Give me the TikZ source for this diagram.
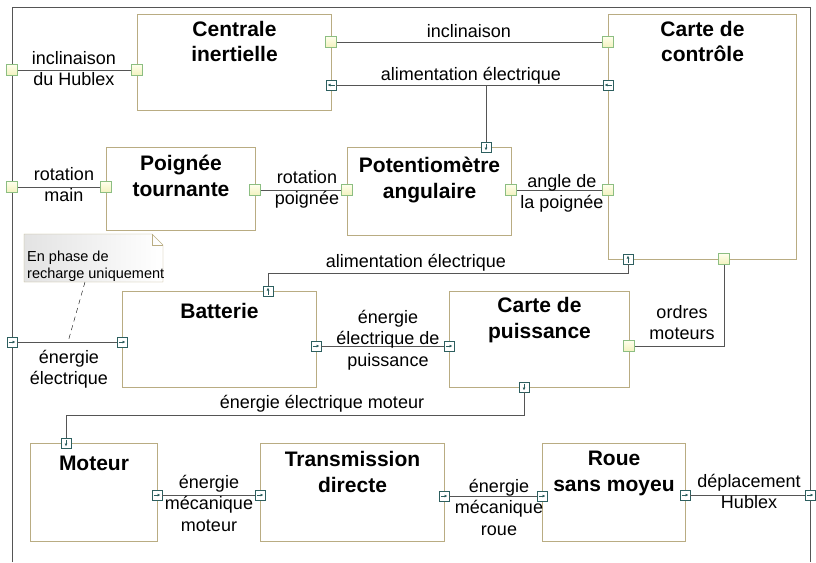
\documentclass[tikz,border=0pt]{standalone}
\usepackage{fontspec}
\setmainfont{Liberation Sans}
\usetikzlibrary{arrows.meta}

\definecolor{bordbloc}{RGB}{185,172,130}
\definecolor{bordport}{RGB}{140,190,130}
\definecolor{hautport}{RGB}{255,255,236}
\definecolor{basport}{RGB}{242,242,190}
\definecolor{flux}{RGB}{45,95,95}
\definecolor{trait}{RGB}{85,85,85}

\tikzset{
  bloc/.style={draw=bordbloc, fill=white, line width=1pt, anchor=north west, inner sep=0pt},
  titre/.style={font=\fontsize{21}{25.5}\selectfont\bfseries, align=center, anchor=north, inner sep=0pt},
  etiq/.style={font=\fontsize{18}{21.5}\selectfont, align=center, anchor=north, inner sep=0pt},
  port/.style={draw=bordport, line width=0.8pt, top color=hautport, bottom color=basport, minimum size=11pt, inner sep=0pt},
  fport/.style={draw=flux, line width=0.8pt, fill=white, minimum size=10pt, inner sep=0pt},
  fleche/.style={flux, line width=0.6pt, -{Latex[length=3pt,width=3pt]}},
  fdroite/.style={fport, path picture={\draw[fleche] ([xshift=1.5pt]path picture bounding box.west) -- ([xshift=-1.5pt]path picture bounding box.east);}},
  fgauche/.style={fport, path picture={\draw[fleche] ([xshift=-1.5pt]path picture bounding box.east) -- ([xshift=1.5pt]path picture bounding box.west);}},
  fhaut/.style={fport, path picture={\draw[fleche] ([yshift=1.5pt]path picture bounding box.south) -- ([yshift=-1.5pt]path picture bounding box.north);}},
  fbas/.style={fport, path picture={\draw[fleche] ([yshift=-1.5pt]path picture bounding box.north) -- ([yshift=1.5pt]path picture bounding box.south);}},
  lien/.style={draw=trait, line width=1pt},
}

\begin{document}
\begin{tikzpicture}[x=1pt, y=-1pt]
    \useasboundingbox (0,0) rectangle (816,562);
    % cadre du systeme
    \draw[trait, line width=1pt] (12,562) -- (12,7) -- (810,7) -- (810,562);

    % blocs
    \node[bloc, minimum width=194pt, minimum height=96pt] (ci) at (137,14) {};
    \node[titre, yshift=-7pt] (ci-t) at (ci.north) {Centrale\\inertielle};
    \node[bloc, minimum width=188pt, minimum height=245pt] (cc) at (608,14) {};
    \node[titre, yshift=-7pt] (cc-t) at (cc.north) {Carte de\\contrôle};
    \node[bloc, minimum width=149pt, minimum height=83pt] (pt) at (106,147) {};
    \node[titre, yshift=-8pt] (pt-t) at (pt.north) {Poignée\\tournante};
    \node[bloc, minimum width=164pt, minimum height=88pt] (pa) at (347,147) {};
    \node[titre, yshift=-10pt] (pa-t) at (pa.north) {Potentiomètre\\angulaire};
    \node[bloc, minimum width=194pt, minimum height=96pt] (bat) at (122,291) {};
    \node[titre, yshift=-12pt] (bat-t) at (bat.north) {Batterie};
    \node[bloc, minimum width=180pt, minimum height=96pt] (cp) at (449,291) {};
    \node[titre, yshift=-6.5pt] (cp-t) at (cp.north) {Carte de\\puissance};
    \node[bloc, minimum width=127pt, minimum height=98pt] (mot) at (30,443) {};
    \node[titre, yshift=-13pt] (mot-t) at (mot.north) {Moteur};
    \node[bloc, minimum width=184pt, minimum height=98pt] (td) at (260,443) {};
    \node[titre, yshift=-8.5pt] (td-t) at (td.north) {Transmission\\directe};
    \node[bloc, minimum width=143pt, minimum height=98pt] (rsm) at (542,443) {};
    \node[titre, yshift=-8pt] (rsm-t) at (rsm.north) {Roue\\sans moyeu};

    % note
    \shade[left color=gray!22, right color=white, draw=bordbloc] (24,234) -- (152,234) -- (163,245) -- (163,282) -- (24,282) -- cycle;
    \draw[bordbloc] (152,234) -- (152,245) -- (163,245);
    \node[font=\fontsize{14.5}{16.6}\selectfont, align=left, anchor=north west, inner sep=0pt] (note) at (27,251) {En phase de\\recharge uniquement};

    % ports
    \node[port] (fr-w1) at (12,70) {};
    \node[port] (ci-w) at (137,70) {};
    \node[port] (ci-e1) at (331,42) {};
    \node[port] (cc-w1) at (608,42) {};
    \node[fgauche] (ci-e2) at (331,85) {};
    \node[fgauche] (cc-w2) at (608,85) {};
    \node[fbas] (pa-n) at (486,147) {};
    \node[port] (fr-w2) at (12,187) {};
    \node[port] (pt-w) at (106,187) {};
    \node[port] (pt-e) at (255,190) {};
    \node[port] (pa-w) at (347,190) {};
    \node[port] (pa-e) at (511,190) {};
    \node[port] (cc-w3) at (608,190) {};
    \node[fhaut] (cc-s1) at (628,259) {};
    \node[port] (cc-s2) at (724,259) {};
    \node[fhaut] (bat-n) at (268,291) {};
    \node[fdroite] (fr-w3) at (12,342) {};
    \node[fdroite] (bat-w) at (122,342) {};
    \node[fdroite] (bat-e) at (316,346) {};
    \node[fdroite] (cp-w) at (449,346) {};
    \node[port] (cp-e) at (629,346) {};
    \node[fbas] (cp-s) at (524,387) {};
    \node[fbas] (mot-n) at (66,443) {};
    \node[fdroite] (mot-e) at (157,495) {};
    \node[fdroite] (td-w) at (260,495) {};
    \node[fdroite] (td-e) at (444,496) {};
    \node[fdroite] (rsm-w) at (542,496) {};
    \node[fdroite] (rsm-e) at (685,495) {};
    \node[fdroite] (fr-e) at (810,495) {};

    % liaisons
    \draw[lien] (fr-w1) -- (ci-w);
    \draw[lien] (ci-e1) -- (cc-w1);
    \draw[lien] (cc-w2) -- (ci-e2);
    \draw[lien] (pa-n) -- (pa-n |- ci-e2);
    \draw[lien] (fr-w2) -- (pt-w);
    \draw[lien] (pt-e) -- (pa-w);
    \draw[lien] (pa-e) -- (cc-w3);
    \draw[lien] (cc-s1) -- ++(0,14) -| (bat-n);
    \draw[lien] (cc-s2) |- (cp-e);
    \draw[lien] (fr-w3) -- (bat-w);
    \draw[lien] (bat-e) -- (cp-w);
    \draw[lien] (cp-s) -- ++(0,28) -| (mot-n);
    \draw[lien] (mot-e) -- (td-w);
    \draw[lien] (td-e) -- (rsm-w);
    \draw[lien] (rsm-e) -- (fr-e);

    % lien de la note
    \coordinate (note-pied) at (85,282);
    \coordinate (note-cible) at (68,342);
    \draw[black, dash pattern=on 5pt off 4pt] (note-pied) -- (note-cible);

    % etiquettes
    \node[etiq] (e-inclh) at (74,51) {inclinaison\\du Hublex};
    \node[etiq] (e-incl) at (469,24) {inclinaison};
    \node[etiq] (e-alim1) at (471,67) {alimentation électrique};
    \node[etiq] (e-rotm) at (64,167) {rotation\\main};
    \node[etiq] (e-rotp) at (307,170) {rotation\\poignée};
    \node[etiq] (e-angle) at (562,174) {angle de\\la poignée};
    \node[etiq] (e-alim2) at (416,254) {alimentation électrique};
    \node[etiq] (e-ordres) at (682,305) {ordres\\moteurs};
    \node[etiq] (e-eep) at (388,310) {énergie\\électrique de\\puissance};
    \node[etiq] (e-ee) at (69,350) {énergie\\électrique};
    \node[etiq] (e-eem) at (322,395) {énergie électrique moteur};
    \node[etiq] (e-emm) at (209,475) {énergie\\mécanique\\moteur};
    \node[etiq] (e-emr) at (499,479) {énergie\\mécanique\\roue};
    \node[etiq] (e-dep) at (749,474) {déplacement\\Hublex};
\end{tikzpicture}
\end{document}
